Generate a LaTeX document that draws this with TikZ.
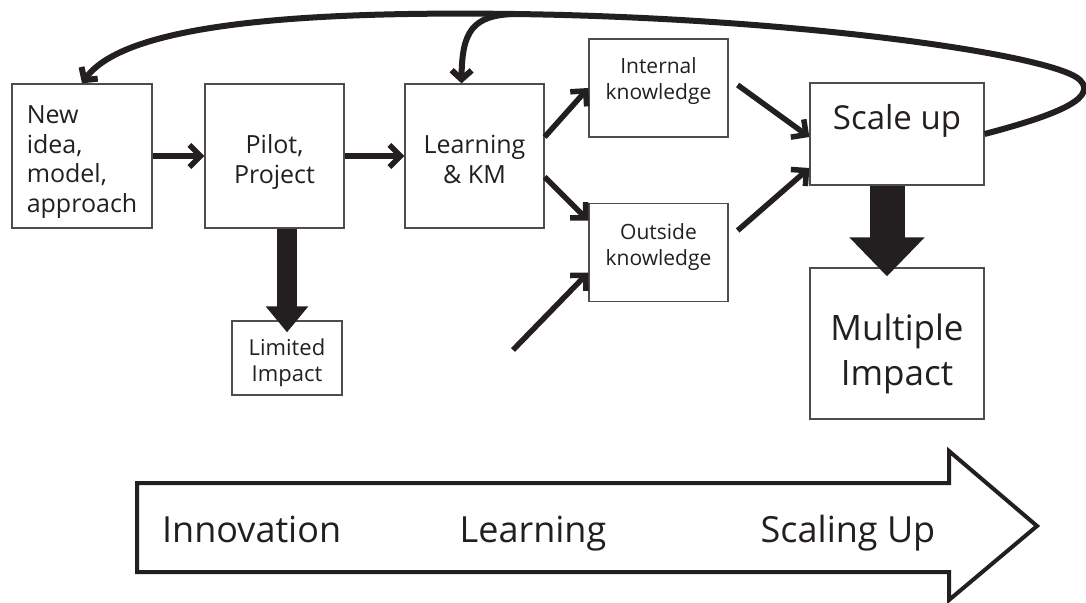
\documentclass[tikz,border=0pt]{standalone}
\usepackage{fontspec}
\setmainfont{Open Sans}
\usetikzlibrary{arrows.meta}

\definecolor{ink}{HTML}{231F20}
\definecolor{frame}{HTML}{4D4D4D}

% move a stack of lines up or down inside its box, keeping its size
\newcommand{\liftlines}[3][c]{\raisebox{#2}[\height][\depth]{\begin{tabular}{@{}#1@{}}#3\end{tabular}}}

\begin{document}
\begin{tikzpicture}[x=1pt,y=-1pt,
    box/.style={draw=frame,line width=1.3pt,inner sep=0pt,text=ink,align=center},
    link/.style={draw=ink,line width=5.5pt,-{Straight Barb[length=11pt,width=22pt]}},
    loop/.style={draw=ink,line width=6pt,-{Straight Barb[length=9pt,width=20pt]}},
    fat/.style={draw=ink,line width=#1},
    big/.style={font=\fontsize{36}{40}\selectfont,text=ink,inner sep=0pt}]
        \useasboundingbox (0,0) rectangle (1086,602);
        \tikzstyle{every node}+=[inner sep=0pt]
        % boxes
        \node [box,minimum width=140pt,minimum height=144pt,font=\fontsize{25}{29.5}\selectfont] (idea) at (82,156) {\liftlines[l]{-6pt}{New\\idea,\\model,\\approach}};
        \node [box,minimum width=139pt,minimum height=144pt,font=\fontsize{25}{30}\selectfont] (pilot) at (274.5,156) {\liftlines{-6pt}{Pilot,\\Project}};
        \node [box,minimum width=139pt,minimum height=144pt,font=\fontsize{25}{30}\selectfont] (learn) at (474.5,156) {\liftlines{-6pt}{Learning\\\& KM}};
        \node [box,minimum width=139pt,minimum height=98pt,font=\fontsize{21}{26}\selectfont] (inside) at (658.5,88) {\liftlines{7pt}{Internal\\knowledge}};
        \node [box,minimum width=139pt,minimum height=98pt,font=\fontsize{21}{26}\selectfont] (outside) at (658.5,252.5) {\liftlines{5pt}{Outside\\knowledge}};
        \node [box,minimum width=174pt,minimum height=102pt,font=\fontsize{33}{38}\selectfont] (scale) at (897,134) {\liftlines{12pt}{Scale up}};
        \node [box,minimum width=174pt,minimum height=151pt,font=\fontsize{35}{45}\selectfont] (multi) at (897,343.5) {\liftlines{-10pt}{Multiple\\Impact}};
        \node [box,minimum width=110pt,minimum height=74pt,font=\fontsize{22}{26}\selectfont] (limited) at (287,358) {\liftlines{-5pt}{Limited\\Impact}};
        % flow arrows
        \draw [link] (idea) -- (pilot);
        \draw [link] (pilot) -- (learn);
        \draw [link] ([yshift=19pt]learn.east) -- (inside.west);
        \draw [link] ([yshift=-21pt]learn.east) -- ([yshift=32pt]outside.west);
        \coordinate (extern) at (513,350);
        \draw [link] (extern) -- ([yshift=-20pt]outside.west);
        \draw [link] ([shift={(9pt,3pt)}]inside.east) -- ([yshift=-3pt]scale.west);
        \draw [link] ([shift={(9pt,22pt)}]outside.east) -- ([yshift=-34pt]scale.west);
        % thick drops
        \draw [fat=20pt,-{Triangle[length=26pt,width=41pt]},shorten >=-12pt] ([xshift=12.5pt]pilot.south) -- (limited.north);
        \draw [fat=35pt,-{Triangle[length=39pt,width=73pt]},shorten >=-9pt] ([xshift=-10pt]scale.south) -- ([xshift=-10pt]multi.north);
        % feedback loop over the top
        \coordinate (fork) at (515,14);
        \draw [loop] (scale.east) .. controls (1045,118) and (1100,100) .. (1080,80)
            .. controls (1055,55) and (800,18) .. (fork)
            .. controls (300,11) and (125,24) .. (idea.north);
        \draw [loop] (fork) .. controls (472,15) and (462,32) .. ([xshift=-13pt]learn.north);
        % stage arrow along the bottom
        \draw [ink,line width=4pt,line join=miter] (137,483) -- (949,483) -- (949,451) -- (1037,526)
            -- (949,600) -- (949,572) -- (137,572) -- cycle;
        \node [big,anchor=base west] (innov) at (162,542) {Innovation};
        \node [big,anchor=base] (learning) at (533,542) {Learning};
        \node [big,anchor=base] (scaling) at (848,542) {Scaling Up};
\end{tikzpicture}
\end{document}
